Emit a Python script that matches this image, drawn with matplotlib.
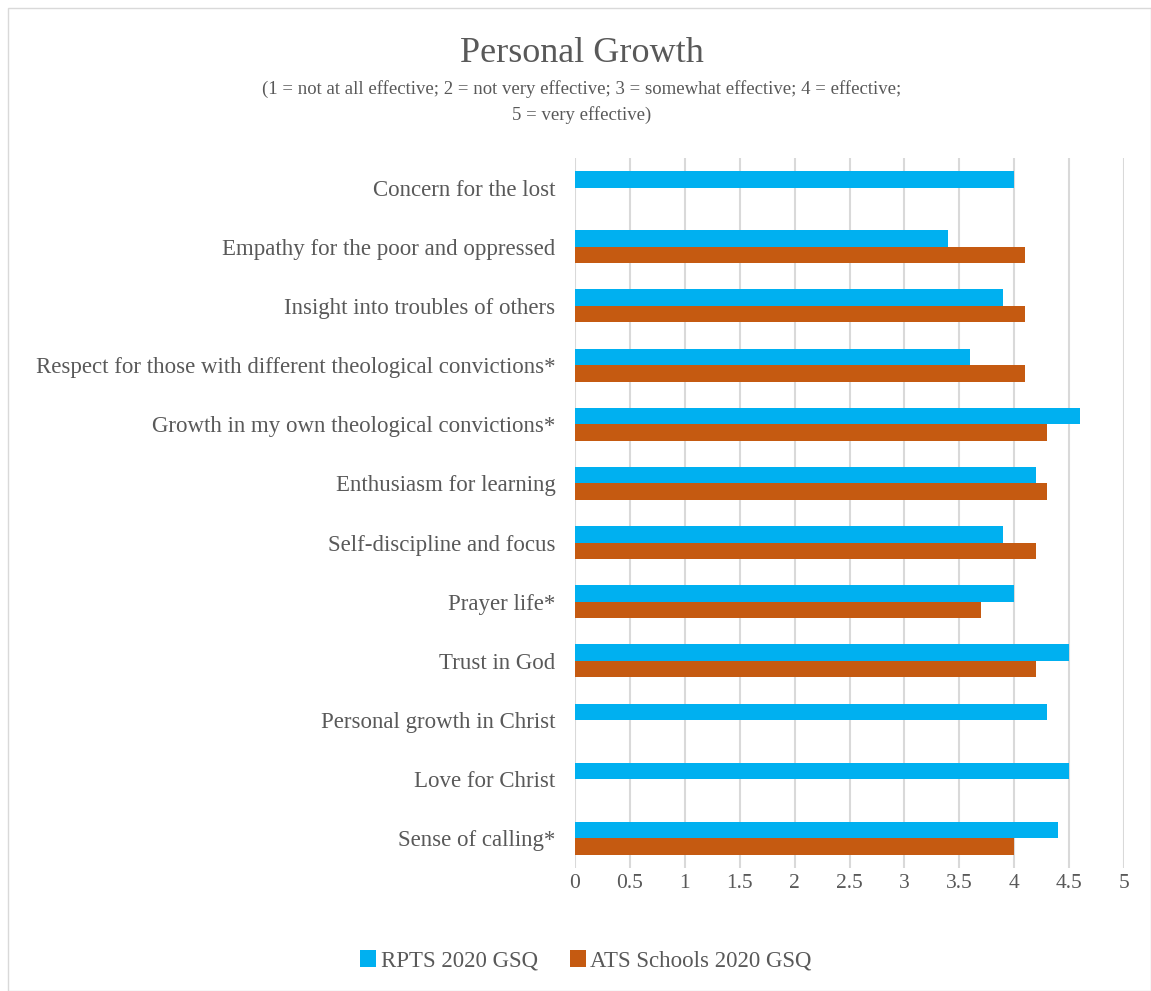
import numpy as np
import matplotlib
matplotlib.use("Agg")
import matplotlib.pyplot as plt
from matplotlib.patches import Rectangle

# categories listed top to bottom as shown in the chart
categories = [
    "Concern for the lost",
    "Empathy for the poor and oppressed",
    "Insight into troubles of others",
    "Respect for those with different theological convictions*",
    "Growth in my own theological convictions*",
    "Enthusiasm for learning",
    "Self-discipline and focus",
    "Prayer life*",
    "Trust in God",
    "Personal growth in Christ",
    "Love for Christ",
    "Sense of calling*",
]
rpts = [4.0, 3.4, 3.9, 3.6, 4.6, 4.2, 3.9, 4.0, 4.5, 4.3, 4.5, 4.4]
ats = [np.nan, 4.1, 4.1, 4.1, 4.3, 4.3, 4.2, 3.7, 4.2, np.nan, np.nan, 4.0]
series_names = ["RPTS 2020 GSQ", "ATS Schools 2020 GSQ"]
xticks = [0, 0.5, 1, 1.5, 2, 2.5, 3, 3.5, 4, 4.5, 5]
xtick_labels = ["0", "0.5", "1", "1.5", "2", "2.5", "3", "3.5", "4", "4.5", "5"]

blue = "#00B0F0"
orange = "#C55A11"
txt = "#595959"

plt.rcParams['font.family'] = ['Liberation Serif', 'DejaVu Serif']

fig = plt.figure(figsize=(11.51, 9.91), dpi=100)
ax = fig.add_axes([575/1151, 1 - 868/991, 549/1151, 710/991])

n = len(categories)
y = np.arange(n)[::-1]  # first category at top
h = 0.28
ax.barh(y + h/2, rpts, height=h, color=blue, label=series_names[0], zorder=3)
ax.barh(y - h/2, ats, height=h, color=orange, label=series_names[1], zorder=3)

ax.set_xlim(0, 5)
ax.set_ylim(-0.5, n - 0.5)
ax.set_xticks(xticks)
ax.set_xticklabels(xtick_labels, fontsize=15.5)
ax.set_yticks(y)
ax.set_yticklabels(categories, fontsize=16.5)
ax.tick_params(axis='both', length=0, colors=txt)
ax.tick_params(axis='y', pad=14)
ax.tick_params(axis='x', pad=4)
ax.grid(axis='x', color="#D9D9D9", linewidth=1.5, zorder=0)
for s in ["top", "right", "bottom", "left"]:
    ax.spines[s].set_visible(False)

fig.text(582/1151, 1 - 53/991, "Personal Growth", ha='center', va='center',
         fontsize=26, color=txt)
fig.text(582/1151, 1 - 89/991, "(1 = not at all effective; 2 = not very effective; 3 = somewhat effective; 4 = effective;",
         ha='center', va='center', fontsize=13.5, color=txt)
fig.text(582/1151, 1 - 115/991, "5 = very effective)",
         ha='center', va='center', fontsize=13.5, color=txt)

fig.legend(loc='center', bbox_to_anchor=(586/1151, 1 - 961/991), ncol=2,
           frameon=False, fontsize=16.5, labelcolor=txt, handlelength=0.7,
           handleheight=0.7, handletextpad=0.2, columnspacing=1.4)

fig.patches.append(Rectangle((8/1151, 0), 1 - 8/1151, 1 - 8/991, transform=fig.transFigure,
                             fill=False, edgecolor="#D9D9D9", linewidth=1))

fig.savefig("out.png", dpi=100)
